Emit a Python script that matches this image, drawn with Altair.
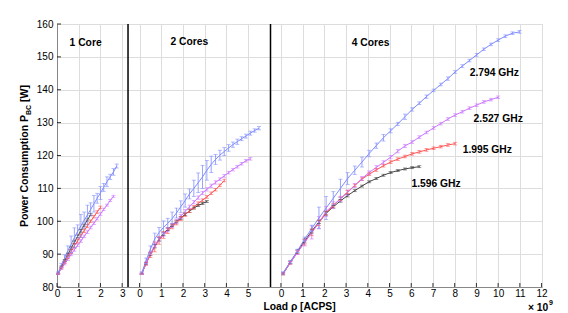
import altair as alt
import pandas as pd

# ---------------- data ----------------
FREQS = ["2.794 GHz", "2.527 GHz", "1.995 GHz", "1.596 GHz"]
COLORS = ["#7f8cff", "#cc77ff", "#ff5555", "#444444"]

# load grids (x 10^9 ACPS) for each panel
X1 = [0.05, 0.2, 0.35, 0.5, 0.65, 0.8, 0.95, 1.1, 1.25, 1.4, 1.55, 1.7, 1.85, 2.0,
      2.15, 2.3, 2.45, 2.6, 2.75]
X2 = [0.1, 0.3, 0.5, 0.7, 0.9, 1.1, 1.3, 1.5, 1.7, 1.9, 2.1, 2.3, 2.5, 2.7, 2.9,
      3.1, 3.3, 3.5, 3.7, 3.9, 4.1, 4.3, 4.5, 4.7, 4.9, 5.1, 5.3, 5.5]
X3 = [0.10, 0.43, 0.76, 1.09, 1.42, 1.75, 2.08, 2.41, 2.74, 3.07, 3.40, 3.73, 4.06,
      4.39, 4.72, 5.05, 5.38, 5.71, 6.04, 6.37, 6.70, 7.03, 7.36, 7.69, 8.02, 8.35,
      8.68, 9.01, 9.34, 9.67, 10.00, 10.33, 10.66, 10.99]

# 1 core
P1_Y = {
    "2.794 GHz": [84.3, 86.6, 88.8, 91.0, 93.0, 95.0, 96.9, 98.6, 100.3, 101.9, 103.6,
                  105.3, 107.0, 108.6, 110.3, 112.0, 113.5, 115.0, 116.8],
    "2.527 GHz": [84.0, 85.6, 87.0, 88.5, 89.9, 91.3, 92.7, 94.0, 95.4, 96.7, 98.1,
                  99.4, 100.8, 102.2, 103.6, 104.9, 106.3, 107.6],
    "1.995 GHz": [84.0, 85.8, 87.5, 89.2, 90.8, 92.5, 94.0, 95.6, 97.1, 98.6, 100.0,
                  101.4, 102.8, 104.2],
    "1.596 GHz": [84.0, 86.1, 88.0, 89.9, 91.8, 93.6, 95.4, 97.1, 98.8, 100.4, 102.0],
}
P1_E = {
    "2.794 GHz": [0.3, 0.6, 1.0, 1.5, 2.5, 3.0, 2.0, 3.5, 2.5, 3.0, 2.0, 2.5, 1.5, 2.0,
                  1.2, 1.5, 0.8, 1.0, 0.6],
    "2.527 GHz": [0.2, 0.3, 0.3, 0.4, 0.4, 0.4, 0.4, 0.4, 0.4, 0.4, 0.4, 0.4, 0.4, 0.4,
                  0.4, 0.3, 0.3, 0.3],
    "1.995 GHz": [0.2, 0.3, 0.4, 0.5, 0.6, 0.6, 0.6, 0.5, 0.5, 0.5, 0.4, 0.4, 0.4, 0.4],
    "1.596 GHz": [0.2, 0.3, 0.3, 0.4, 0.4, 0.4, 0.4, 0.4, 0.3, 0.3, 0.3],
}

# 2 cores
P2_Y = {
    "2.794 GHz": [84.3, 88.0, 91.5, 94.6, 96.6, 98.1, 99.4, 100.8, 102.5, 104.4, 106.3,
                  108.3, 110.0, 111.7, 113.5, 115.5, 117.3, 118.8, 120.1, 121.2, 122.3,
                  123.3, 124.2, 125.1, 125.9, 126.8, 127.6, 128.3],
    "2.527 GHz": [84.0, 87.3, 90.2, 92.6, 94.5, 96.0, 97.4, 98.7, 100.0, 101.5, 103.0,
                  104.4, 105.8, 107.2, 108.6, 109.7, 110.8, 111.8, 112.8, 113.8, 114.8,
                  115.7, 116.6, 117.5, 118.4, 119.0],
    "1.995 GHz": [84.0, 87.0, 89.8, 92.2, 94.2, 95.8, 97.1, 98.3, 99.5, 100.8, 102.0,
                  103.2, 104.3, 105.4, 106.4, 107.4, 108.5, 109.6, 110.9, 112.4],
    "1.596 GHz": [84.0, 87.2, 90.0, 92.4, 94.5, 96.2, 97.6, 98.8, 99.9, 101.0, 102.1,
                  103.1, 104.0, 104.8, 105.4, 106.0],
}
P2_E = {
    "2.794 GHz": [0.3, 0.8, 1.0, 1.8, 1.5, 2.0, 1.5, 2.0, 1.5, 1.8, 2.0, 1.5, 2.5, 3.0,
                  3.5, 3.0, 2.5, 1.5, 1.5, 1.2, 1.0, 0.8, 0.8, 0.6, 0.6, 0.6, 0.5, 0.5],
    "2.527 GHz": [0.2, 0.3, 0.4, 0.5, 0.6, 0.6, 0.6, 0.6, 0.6, 0.6, 0.6, 0.5, 0.5, 0.5,
                  0.5, 0.5, 0.5, 0.5, 0.4, 0.4, 0.4, 0.4, 0.4, 0.4, 0.4, 0.4],
    "1.995 GHz": [0.2, 0.4, 0.8, 1.5, 1.2, 1.0, 0.8, 0.6, 0.6, 0.6, 0.5, 0.5, 0.5, 0.5,
                  0.4, 0.4, 0.4, 0.4, 0.4, 0.4],
    "1.596 GHz": [0.2, 0.3, 0.4, 0.5, 0.5, 0.5, 0.4, 0.4, 0.4, 0.4, 0.4, 0.4, 0.3, 0.3,
                  0.3, 0.3],
}

# 4 cores
P3_Y = {
    "2.794 GHz": [84.3, 87.7, 91.0, 94.6, 97.8, 101.0, 104.0, 107.0, 110.0, 113.0, 115.5,
                  118.0, 120.6, 123.0, 125.4, 127.5, 129.6, 131.8, 134.0, 135.9, 137.9,
                  139.8, 141.6, 143.4, 145.4, 147.2, 148.9, 150.6, 152.3, 153.8, 155.1,
                  156.3, 157.2, 157.6],
    "2.527 GHz": [84.2, 87.4, 90.5, 93.5, 96.6, 99.6, 103.0, 104.9, 106.8, 108.7, 110.9,
                  113.0, 114.8, 116.4, 117.9, 119.5, 121.3, 122.9, 124.1, 125.6, 127.0,
                  128.4, 129.7, 131.1, 132.3, 133.3, 134.4, 135.3, 136.3, 137.0, 137.7],
    "1.995 GHz": [84.0, 87.3, 90.5, 93.6, 96.6, 99.5, 102.5, 104.8, 106.9, 108.9, 110.9,
                  112.8, 114.3, 115.6, 116.9, 118.0, 118.9, 119.7, 120.5, 121.1, 121.7,
                  122.2, 122.7, 123.2, 123.6],
    "1.596 GHz": [84.0, 87.5, 90.8, 94.0, 97.0, 99.8, 102.4, 104.4, 106.2, 107.8, 109.3,
                  110.7, 112.0, 113.0, 114.0, 114.8, 115.4, 115.9, 116.3, 116.6],
}
P3_E = {
    "2.794 GHz": [0.3, 0.4, 0.5, 0.6, 1.0, 3.3, 3.5, 2.0, 2.8, 1.8, 1.3, 1.5, 1.0, 0.8,
                  1.0, 0.6, 0.5, 0.8, 0.5, 0.4, 0.5, 0.4, 0.4, 0.5, 0.4, 0.4, 0.4, 0.4,
                  0.4, 0.4, 0.4, 0.4, 0.4, 0.4],
    "2.527 GHz": [0.3, 0.4, 0.6, 1.0, 2.0, 1.8, 1.5, 1.0, 0.8, 0.8, 0.6, 0.6, 0.5, 0.5,
                  0.5, 0.5, 0.5, 0.5, 0.4, 0.4, 0.4, 0.4, 0.4, 0.4, 0.4, 0.4, 0.4, 0.4,
                  0.4, 0.4, 0.4],
    "1.995 GHz": [0.3, 0.4, 0.5, 0.8, 1.0, 0.8, 0.6, 0.5, 0.5, 0.5, 0.4, 0.4, 0.4, 0.4,
                  0.4, 0.4, 0.4, 0.4, 0.4, 0.4, 0.4, 0.4, 0.4, 0.4, 0.4],
    "1.596 GHz": [0.3, 0.4, 0.5, 0.6, 0.6, 0.5, 0.5, 0.4, 0.4, 0.4, 0.3, 0.3, 0.3, 0.3,
                  0.3, 0.3, 0.3, 0.3, 0.3, 0.3],
}

PANEL_NAMES = ["1 Core", "2 Cores", "4 Cores"]
PANEL_TICKS = [[0, 1, 2, 3], [0, 1, 2, 3, 4, 5], list(range(0, 13))]
Y_TICKS = [80, 90, 100, 110, 120, 130, 140, 150, 160]

# ---------------- layout of the shared x axis ----------------
OFFSETS = [0.0, 3.8, 10.31]        # where each panel's zero sits on the shared axis
SEPARATORS = [3.27, 9.83]
XMAX = 22.33
W, H = 485, 263
FONT = "Liberation Sans"

rows = []
for pi, (xs, Y, E) in enumerate([(X1, P1_Y, P1_E), (X2, P2_Y, P2_E), (X3, P3_Y, P3_E)]):
    for f in FREQS[::-1]:
        for x, y, e in zip(xs, Y[f], E[f]):
            rows.append({"gx": x + OFFSETS[pi], "y": y, "lo": y - e, "hi": y + e,
                         "freq": f, "key": f"{pi}-{f}"})
df = pd.DataFrame(rows)

tick_vals = [OFFSETS[i] + t for i in range(3) for t in PANEL_TICKS[i]]
label_expr = ("round(datum.value < 3.5 ? datum.value : "
              "(datum.value < 9.9 ? datum.value - 3.8 : datum.value - 10.31))")

xscale = alt.Scale(domain=[0, XMAX], nice=False, zero=False)
yscale = alt.Scale(domain=[80, 160], nice=False, zero=False)
xaxis = alt.Axis(values=tick_vals, labelExpr=label_expr, title=None,
                 ticks=False, labelPadding=1, labelFlush=False)
yaxis = alt.Axis(values=Y_TICKS, title=None, ticks=False, labelPadding=4)

X = alt.X("gx:Q", scale=xscale, axis=xaxis)
color = alt.Color("freq:N", scale=alt.Scale(domain=FREQS, range=COLORS), legend=None)

base = alt.Chart(df)
lines = base.mark_line(strokeWidth=1).encode(
    x=X, y=alt.Y("y:Q", scale=yscale, axis=yaxis), color=color,
    detail="key:N", order="gx:Q")
bars = base.mark_rule(strokeWidth=0.8).encode(
    x=X, y=alt.Y("lo:Q", scale=yscale, axis=yaxis), y2="hi:Q", color=color)
cap_lo = base.mark_tick(orient="horizontal", size=4, thickness=0.8).encode(
    x=X, y=alt.Y("lo:Q", scale=yscale, axis=yaxis), color=color)
cap_hi = base.mark_tick(orient="horizontal", size=4, thickness=0.8).encode(
    x=X, y=alt.Y("hi:Q", scale=yscale, axis=yaxis), color=color)

seps = alt.Chart(pd.DataFrame({"gx": SEPARATORS})).mark_rule(
    color="black", strokeWidth=1.5).encode(
    x=alt.X("gx:Q", scale=xscale, axis=xaxis), y=alt.value(0), y2=alt.value(H))

xticks = alt.Chart(pd.DataFrame({"gx": tick_vals})).mark_rule(
    color="black", strokeWidth=0.8).encode(
    x=alt.X("gx:Q", scale=xscale, axis=xaxis), y=alt.value(H), y2=alt.value(H - 4))
yticks = alt.Chart(pd.DataFrame({"v": Y_TICKS})).mark_rule(
    color="black", strokeWidth=0.8).encode(
    y=alt.Y("v:Q", scale=yscale, axis=yaxis), x=alt.value(0), x2=alt.value(4))

ann = pd.DataFrame({
    "gx": [0.58, 5.22, 13.57, 19.0, 19.18, 18.68, 16.32],
    "y": [154.3, 154.5, 154.2, 145.2, 131.2, 121.55, 111.4],
    "label": PANEL_NAMES + FREQS,
})
labels = alt.Chart(ann).mark_text(
    align="left", baseline="middle", font=FONT, fontSize=10.3, fontWeight="bold",
    color="black").encode(
    x=alt.X("gx:Q", scale=xscale, axis=xaxis),
    y=alt.Y("y:Q", scale=yscale, axis=yaxis), text="label:N")

one = pd.DataFrame({"a": [0]})
def txt(s, x, y, size=10.3, angle=0, align="left"):
    return alt.Chart(one).mark_text(
        text=s, angle=angle, align=align, baseline="middle", font=FONT,
        fontSize=size, fontWeight="bold", color="black").encode(
        x=alt.value(x), y=alt.value(y))

ytitle = (txt("Power Consumption P", -32, 203, size=10.5, angle=270)
          + txt("BC", -28, 91, size=7, angle=270)
          + txt("[W]", -32, 78, size=10.5, angle=270))
xtitle = txt("Load ρ [ACPS]", W / 2, 283, align="center")
xexp = txt("× 10", 471, 284) + txt("9", 492, 279, size=7)

chart = alt.layer(
    lines, bars, cap_lo, cap_hi, seps, xticks, yticks, labels, ytitle, xtitle, xexp
).properties(
    width=W, height=H,
    autosize=alt.AutoSizeParams(type="none"),
    padding={"left": 49, "top": 16, "right": 18, "bottom": 26},
).configure_view(stroke=None).configure_axis(
    labelFont=FONT, labelFontSize=10.3, labelFontWeight="bold", labelColor="black",
    domainColor="black", domainWidth=1,
    gridColor="#c8c8c8", gridDash=[1, 2], gridWidth=0.8,
).configure(background="white")

chart.save("out.html", embed_options={"renderer": "svg", "actions": False})
